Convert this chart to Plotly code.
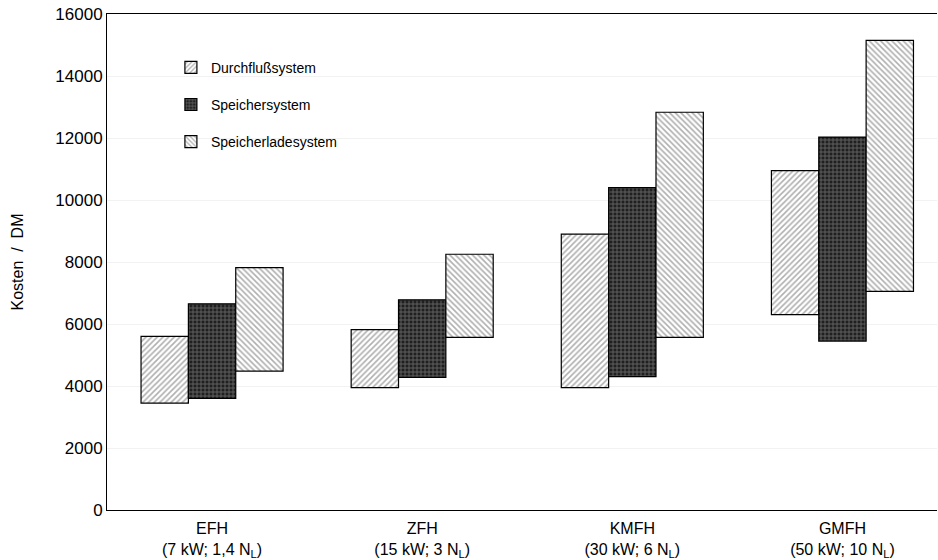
import plotly.graph_objects as go

# Kostenbereiche je Gebäudetyp (von / bis in DM)
kategorien = ["EFH<br>(7 kW; 1,4 N<sub>L</sub>)",
              "ZFH<br>(15 kW; 3 N<sub>L</sub>)",
              "KMFH<br>(30 kW; 6 N<sub>L</sub>)",
              "GMFH<br>(50 kW; 10 N<sub>L</sub>)"]

durchfluss_von = [3450, 3950, 3950, 6300]
durchfluss_bis = [5600, 5820, 8900, 10950]

speicher_von = [3600, 4280, 4300, 5450]
speicher_bis = [6650, 6780, 10400, 12030]

speicherlade_von = [4480, 5570, 5570, 7050]
speicherlade_bis = [7820, 8250, 12830, 15150]

y_ticks = [0, 2000, 4000, 6000, 8000, 10000, 12000, 14000, 16000]

serien = [
    ("Durchflußsystem", durchfluss_von, durchfluss_bis,
     dict(shape="/", fgcolor="#606060", bgcolor="white", size=4, solidity=0.4)),
    ("Speichersystem", speicher_von, speicher_bis,
     dict(shape="+", fgcolor="#a8a8a8", bgcolor="#202020", size=4, solidity=0.4)),
    ("Speicherladesystem", speicherlade_von, speicherlade_bis,
     dict(shape="\\", fgcolor="#606060", bgcolor="white", size=4, solidity=0.4)),
]

fig = go.Figure()
for i, (name, von, bis, muster) in enumerate(serien):
    fig.add_trace(go.Bar(
        x=kategorien,
        y=[b - v for v, b in zip(von, bis)],
        base=von,
        name=name,
        offsetgroup=str(i),
        legendgroup=str(i),
        marker=dict(color="white", pattern=muster,
                    line=dict(color="black", width=1.2)),
    ))

fig.update_layout(
    width=938, height=560,
    margin=dict(l=107, r=1, t=14, b=50),
    paper_bgcolor="white", plot_bgcolor="white",
    font=dict(family="Liberation Sans, Arial, sans-serif", size=16, color="black"),
    barmode="group", bargap=0.324, bargroupgap=0,
    showlegend=True,
    legend=dict(x=0.077, y=0.924, xanchor="left", yanchor="top",
                bgcolor="rgba(0,0,0,0)", font=dict(size=14),
                tracegroupgap=16, itemwidth=30),
    xaxis=dict(range=[-0.5, 3.45], showline=True, mirror=True, linecolor="black",
               linewidth=1, showgrid=False, ticks="", tickfont=dict(size=16),
               ticklabelstandoff=4, automargin=False),
    yaxis=dict(range=[0, 16000], tickvals=y_ticks, tickformat="d", showline=True,
               linecolor="black", linewidth=1, showgrid=True, gridcolor="#f2f2f2",
               zeroline=False, ticks="", tickfont=dict(size=17), automargin=False,
               ticklabeloverflow="allow",
               title=dict(text="Kosten  /  DM", font=dict(size=16), standoff=27)),
)

# Seitenrand entfernen, damit die Grafik bei 0,0 beginnt
fig.write_html("out.html", config={"displayModeBar": False},
               post_script="document.body.style.margin='0';")
